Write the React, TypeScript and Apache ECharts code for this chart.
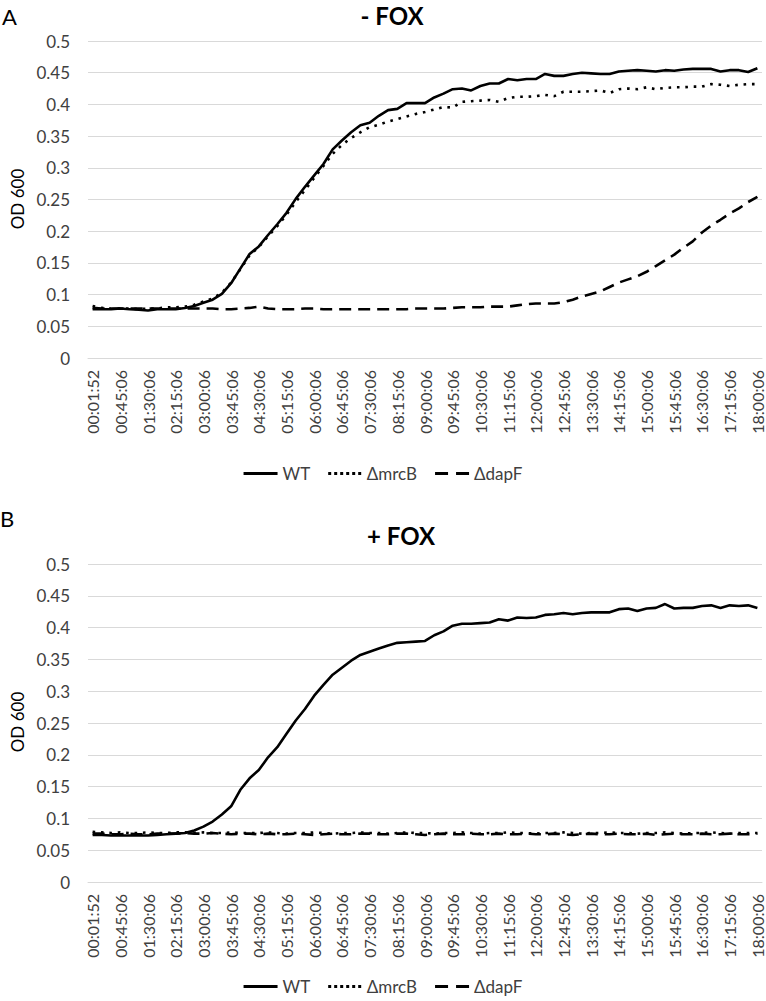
import React, { useEffect, useRef } from "react";
import * as echarts from "echarts";

const times = [
  "00:01:52", "00:15:06", "00:30:06", "00:45:06", "01:00:06", "01:15:06", "01:30:06", "01:45:06", "02:00:06", "02:15:06",
  "02:30:06", "02:45:06", "03:00:06", "03:15:06", "03:30:06", "03:45:06", "04:00:06", "04:15:06", "04:30:06", "04:45:06",
  "05:00:06", "05:15:06", "05:30:06", "05:45:06", "06:00:06", "06:15:06", "06:30:06", "06:45:06", "07:00:06", "07:15:06",
  "07:30:06", "07:45:06", "08:00:06", "08:15:06", "08:30:06", "08:45:06", "09:00:06", "09:15:06", "09:30:06", "09:45:06",
  "10:00:06", "10:15:06", "10:30:06", "10:45:06", "11:00:06", "11:15:06", "11:30:06", "11:45:06", "12:00:06", "12:15:06",
  "12:30:06", "12:45:06", "13:00:06", "13:15:06", "13:30:06", "13:45:06", "14:00:06", "14:15:06", "14:30:06", "14:45:06",
  "15:00:06", "15:15:06", "15:30:06", "15:45:06", "16:00:06", "16:15:06", "16:30:06", "16:45:06", "17:00:06", "17:15:06",
  "17:30:06", "17:45:06", "18:00:06",
];

const seriesNames = ["WT", "ΔmrcB", "ΔdapF"];

// Panel A: - FOX
const wtA = [
  0.077, 0.077, 0.077, 0.078, 0.077, 0.076, 0.075, 0.077, 0.077, 0.077,
  0.079, 0.082, 0.087, 0.092, 0.101, 0.118, 0.141, 0.164, 0.176, 0.194,
  0.211, 0.229, 0.251, 0.270, 0.288, 0.306, 0.329, 0.343, 0.356, 0.367,
  0.371, 0.382, 0.391, 0.393, 0.402, 0.402, 0.402, 0.411, 0.417, 0.424,
  0.425, 0.422, 0.429, 0.433, 0.433, 0.440, 0.438, 0.440, 0.440, 0.448,
  0.445, 0.445, 0.448, 0.450, 0.449, 0.448, 0.448, 0.452, 0.453, 0.454,
  0.453, 0.452, 0.454, 0.453, 0.455, 0.456, 0.456, 0.456, 0.452, 0.454,
  0.454, 0.451, 0.457,
];
const mrcbA = [
  0.082, 0.079, 0.078, 0.078, 0.078, 0.077, 0.078, 0.078, 0.080, 0.080,
  0.081, 0.084, 0.089, 0.094, 0.103, 0.119, 0.140, 0.162, 0.175, 0.192,
  0.208, 0.226, 0.246, 0.265, 0.284, 0.303, 0.322, 0.336, 0.347, 0.356,
  0.364, 0.368, 0.373, 0.377, 0.381, 0.385, 0.388, 0.392, 0.396, 0.395,
  0.404, 0.405, 0.406, 0.407, 0.404, 0.410, 0.412, 0.412, 0.413, 0.415,
  0.413, 0.420, 0.420, 0.420, 0.421, 0.422, 0.418, 0.424, 0.425, 0.424,
  0.427, 0.424, 0.426, 0.427, 0.427, 0.428, 0.428, 0.432, 0.431, 0.429,
  0.431, 0.432, 0.432,
];
const dapfA = [
  0.079, 0.078, 0.078, 0.078, 0.078, 0.078, 0.078, 0.078, 0.078, 0.078,
  0.078, 0.078, 0.078, 0.078, 0.077, 0.077, 0.078, 0.079, 0.081, 0.078,
  0.077, 0.077, 0.077, 0.078, 0.078, 0.077, 0.077, 0.077, 0.077, 0.077,
  0.077, 0.077, 0.077, 0.077, 0.077, 0.078, 0.078, 0.078, 0.078, 0.079,
  0.080, 0.080, 0.080, 0.081, 0.081, 0.081, 0.083, 0.085, 0.086, 0.086,
  0.086, 0.088, 0.092, 0.097, 0.101, 0.105, 0.112, 0.119, 0.124, 0.129,
  0.136, 0.145, 0.154, 0.163, 0.174, 0.184, 0.198, 0.209, 0.218, 0.228,
  0.236, 0.246, 0.254,
];

// Panel B: + FOX
const wtB = [
  0.074, 0.074, 0.073, 0.073, 0.073, 0.073, 0.073, 0.074, 0.075, 0.076,
  0.077, 0.081, 0.087, 0.095, 0.106, 0.119, 0.145, 0.163, 0.176, 0.196,
  0.212, 0.233, 0.254, 0.272, 0.293, 0.310, 0.326, 0.337, 0.348, 0.357,
  0.362, 0.367, 0.372, 0.376, 0.377, 0.378, 0.379, 0.388, 0.394, 0.403,
  0.406, 0.406, 0.407, 0.408, 0.413, 0.411, 0.416, 0.415, 0.416, 0.420,
  0.421, 0.423, 0.421, 0.423, 0.424, 0.424, 0.424, 0.429, 0.430, 0.426,
  0.430, 0.431, 0.437, 0.430, 0.431, 0.431, 0.434, 0.435, 0.431, 0.435,
  0.434, 0.435, 0.431,
];
const mrcbB = [
  0.079, 0.078, 0.077, 0.078, 0.077, 0.077, 0.078, 0.077, 0.077, 0.078,
  0.078, 0.077, 0.078, 0.077, 0.077, 0.078, 0.077, 0.077, 0.077, 0.078,
  0.077, 0.076, 0.077, 0.077, 0.078, 0.077, 0.076, 0.077, 0.077, 0.078,
  0.077, 0.077, 0.076, 0.077, 0.078, 0.077, 0.077, 0.076, 0.077, 0.077,
  0.078, 0.077, 0.076, 0.077, 0.077, 0.078, 0.077, 0.077, 0.076, 0.077,
  0.077, 0.078, 0.077, 0.076, 0.077, 0.077, 0.078, 0.077, 0.077, 0.076,
  0.077, 0.077, 0.078, 0.077, 0.076, 0.077, 0.077, 0.078, 0.077, 0.076,
  0.077, 0.077, 0.077,
];
const dapfB = [
  0.076, 0.076, 0.075, 0.075, 0.076, 0.075, 0.075, 0.076, 0.076, 0.076,
  0.077, 0.076, 0.076, 0.077, 0.076, 0.075, 0.076, 0.076, 0.075, 0.076,
  0.075, 0.075, 0.076, 0.075, 0.074, 0.075, 0.076, 0.075, 0.075, 0.076,
  0.076, 0.075, 0.075, 0.076, 0.076, 0.075, 0.074, 0.075, 0.076, 0.075,
  0.075, 0.076, 0.075, 0.075, 0.076, 0.075, 0.075, 0.076, 0.075, 0.075,
  0.076, 0.075, 0.074, 0.075, 0.076, 0.075, 0.075, 0.076, 0.075, 0.075,
  0.076, 0.074, 0.075, 0.076, 0.075, 0.075, 0.076, 0.075, 0.075, 0.076,
  0.075, 0.075, 0.076,
];

const FONT = "Lato";
const GRID_COLOR = "#d9d9d9";
const TEXT_COLOR = "#404040";

const lineStyles: any[] = [
  { color: "#000", width: 2.6, type: "solid" },
  { color: "#000", width: 2.6, type: [2.6, 5.8] },
  { color: "#000", width: 2.6, type: [12, 7] },
];

const legendIcons = [
  "path://M0,0H34V3H0Z",
  "path://M0,0H3V3H0Z M6,0H9V3H6Z M12,0H15V3H12Z M18,0H21V3H18Z M24,0H27V3H24Z M30,0H33V3H30Z",
  "path://M0,0H13V3H0Z M21,0H34V3H21Z",
];

export default function App() {
  const ref = useRef<HTMLDivElement>(null);
  useEffect(() => {
    document.body.style.margin = "0";
    const chart = echarts.init(ref.current!, null, { renderer: "svg" });

    const grids = [
      { left: 88, top: 41, width: 674, height: 317 },
      { left: 88, top: 564, width: 674, height: 318 },
    ];

    const xAxes = grids.map((_, gi) => ({
      type: "category",
      gridIndex: gi,
      data: times,
      boundaryGap: true,
      axisTick: { show: false },
      axisLine: { lineStyle: { color: GRID_COLOR, width: 1 } },
      axisLabel: {
        interval: 2,
        rotate: 90,
        fontSize: 16,
        fontFamily: FONT,
        color: TEXT_COLOR,
        margin: 12,
      },
    }));

    const yAxes = grids.map((_, gi) => ({
      type: "value",
      gridIndex: gi,
      min: 0,
      max: 0.5,
      interval: 0.05,
      axisLine: { show: false },
      axisTick: { show: false },
      splitLine: { lineStyle: { color: GRID_COLOR, width: 1 } },
      axisLabel: {
        fontSize: 17,
        fontFamily: FONT,
        color: TEXT_COLOR,
        margin: 18,
        formatter: (v: number) => String(+v.toFixed(2)),
      },
    }));

    const panels = [
      [wtA, mrcbA, dapfA],
      [wtB, mrcbB, dapfB],
    ];
    const series: any[] = [];
    panels.forEach((arrs, gi) => {
      arrs.forEach((arr, si) => {
        series.push({
          type: "line",
          name: seriesNames[si],
          xAxisIndex: gi,
          yAxisIndex: gi,
          data: arr,
          symbol: "none",
          lineStyle: lineStyles[si],
          itemStyle: { color: "#000" },
          z: 3 - si,
        });
      });
    });

    const legendBase = {
      left: "center",
      data: seriesNames.map((n, i) => ({ name: n, icon: legendIcons[i] })),
      itemWidth: 34,
      itemHeight: 3,
      itemGap: 18,
      itemStyle: { color: "#000", borderWidth: 0 },
      lineStyle: { width: 0 },
      textStyle: { fontSize: 17, fontFamily: FONT, color: TEXT_COLOR },
    };

    const textStyle = (size: number, weight: any) => ({
      fontSize: size,
      fontFamily: FONT,
      fontWeight: weight,
      fill: "#000",
    });

    chart.setOption({
      animation: false,
      grid: grids,
      xAxis: xAxes,
      yAxis: yAxes,
      series,
      legend: [
        { ...legendBase, top: 460 },
        { ...legendBase, top: 973 },
      ],
      graphic: [
        { type: "text", left: 2, top: 5, style: { text: "A", ...textStyle(22, "normal") } },
        { type: "text", x: 392, y: 15, style: { text: "- FOX", ...textStyle(24, "bold"), align: "center", verticalAlign: "middle" } },
        { type: "text", x: 17, y: 199, rotation: Math.PI / 2, style: { text: "OD 600", ...textStyle(17, "normal"), align: "center", verticalAlign: "middle" } },
        { type: "text", left: 0, top: 507, style: { text: "B", ...textStyle(22, "normal") } },
        { type: "text", x: 401, y: 535, style: { text: "+ FOX", ...textStyle(24, "bold"), align: "center", verticalAlign: "middle" } },
        { type: "text", x: 17, y: 722, rotation: Math.PI / 2, style: { text: "OD 600", ...textStyle(17, "normal"), align: "center", verticalAlign: "middle" } },
      ],
    });

    return () => chart.dispose();
  }, []);
  return <div ref={ref} style={{ width: 766, height: 1001 }} />;
}
